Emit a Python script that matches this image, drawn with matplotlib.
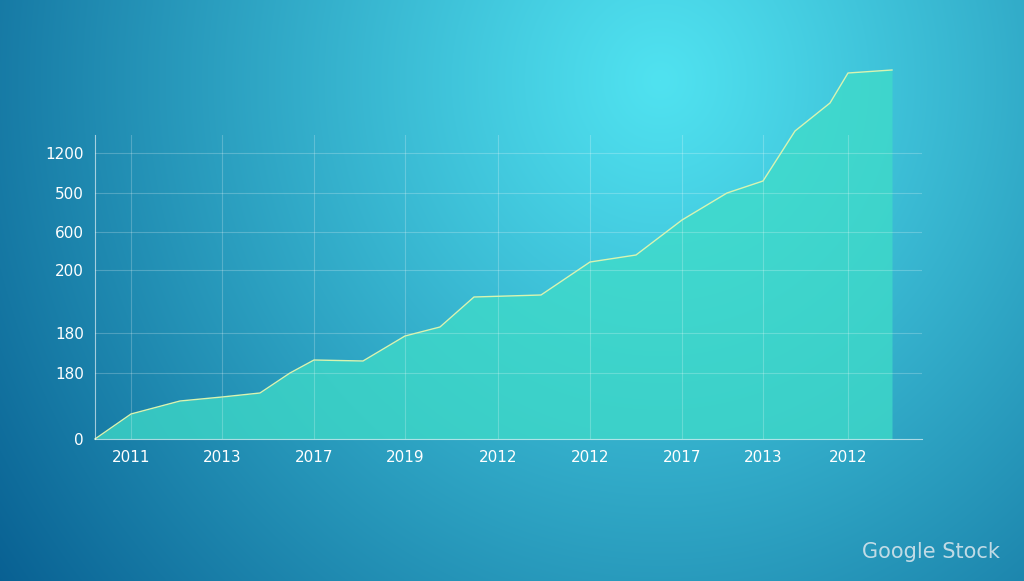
import numpy as np
import matplotlib
matplotlib.use("Agg")
import matplotlib.pyplot as plt

# data (x in chart units, y in chart units)
xs = [0, 36, 85, 127, 165, 195, 219, 268, 310, 345, 379, 446, 495, 541, 587, 632, 668, 700, 735, 753, 797]
ys = [0, 25, 38, 42, 46, 66, 79, 78, 103, 112, 142, 144, 177, 184, 219, 246, 258, 308, 336, 366, 369]
ytick_pos = [0, 66, 106, 169, 207, 246, 286]
ytick_labels = ["0", "180", "180", "200", "600", "500", "1200"]
xtick_pos = [36, 127, 219, 310, 403, 495, 587, 668, 753]
xtick_labels = ["2011", "2013", "2017", "2019", "2012", "2012", "2017", "2013", "2012"]

W, H = 1024, 581
fig = plt.figure(figsize=(W/100, H/100), dpi=100)
bg = fig.add_axes([0, 0, 1, 1])
yy, xx = np.mgrid[0:H, 0:W]
d = np.sqrt(((xx - 660) / 850) ** 2 + ((yy - 80) / 900) ** 2)
t = np.clip(d, 0, 1) ** 1.1
c0 = np.array([0x50, 0xe2, 0xf0]) / 255
c1 = np.array([0x05, 0x5a, 0x8e]) / 255
img = c0[None, None, :] * (1 - t[..., None]) + c1[None, None, :] * t[..., None]
bg.imshow(img, aspect="auto", extent=[0, W, H, 0])
bg.axis("off")

ax = fig.add_axes([95/W, (H-439)/H, (922-95)/W, 304/H])
ax.patch.set_alpha(0)
ax.set_xlim(0, 827)
ax.set_ylim(0, 304)
ax.fill_between(xs, ys, 0, color="#3fdcc8", alpha=0.75, lw=0, clip_on=False)
ax.plot(xs, ys, color="#d8f5b0", lw=1, clip_on=False)
ax.set_yticks(ytick_pos)
ax.set_yticklabels(ytick_labels)
ax.set_xticks(xtick_pos)
ax.set_xticklabels(xtick_labels)
ax.grid(True, color="white", alpha=0.22, lw=0.8)
for s in ["top", "right"]:
    ax.spines[s].set_visible(False)
ax.spines["left"].set_color((1, 1, 1, 0.6))
ax.spines["bottom"].set_color((1, 1, 1, 0.6))
ax.tick_params(colors="white", labelsize=11, length=0, pad=8)
for lbl in ax.get_xticklabels() + ax.get_yticklabels():
    lbl.set_color("white")
fig.text(1000/W, (H-552)/H, "Google Stock", color="#dde8ee", fontsize=15,
         ha="right", va="center", alpha=0.85)
fig.savefig("out.png", dpi=100)
